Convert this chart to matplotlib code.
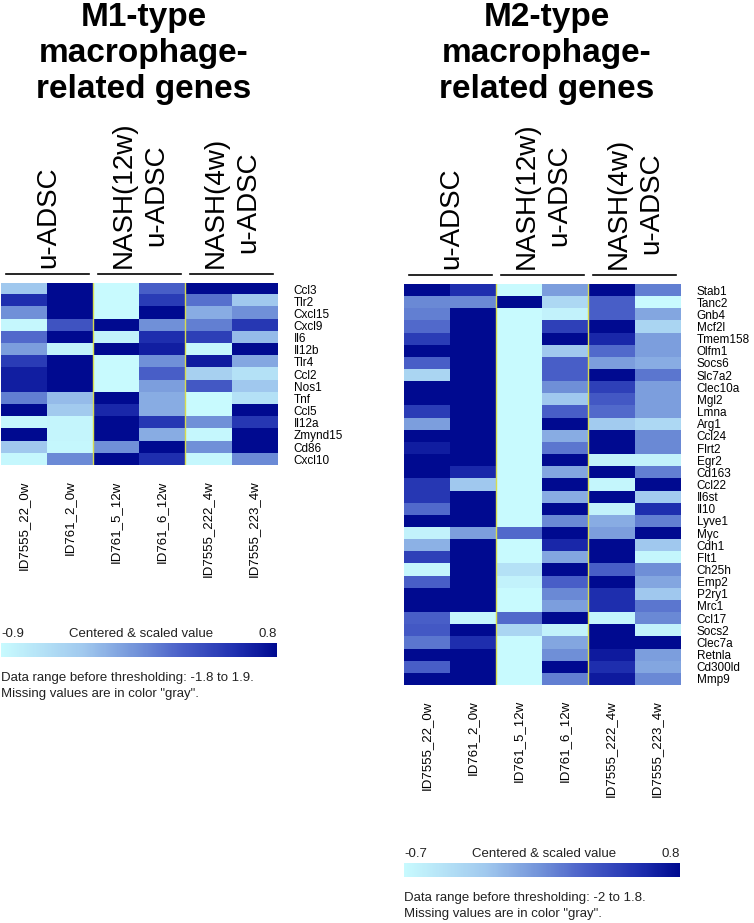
# -*- coding: utf-8 -*-
import matplotlib.pyplot as plt
import matplotlib as mpl
from matplotlib.colors import LinearSegmentedColormap, Normalize

plt.rcParams['font.family'] = ['Liberation Sans', 'DejaVu Sans']

# samples (columns) and groups
samples = ['ID7555_22_0w', 'ID761_2_0w', 'ID761_5_12w',
           'ID761_6_12w', 'ID7555_222_4w', 'ID7555_223_4w']
groups = ['u-ADSC', 'NASH(12w)\nu-ADSC', 'NASH(4w)\nu-ADSC']

# M1 panel
m1_title = 'M1-type\nmacrophage-\nrelated genes'
m1_genes = ['Ccl3', 'Tlr2', 'Cxcl15', 'Cxcl9', 'Il6', 'Il12b', 'Tlr4', 'Ccl2',
            'Nos1', 'Tnf', 'Ccl5', 'Il12a', 'Zmynd15', 'Cd86', 'Cxcl10']
m1_values = [
    [-0.39, 0.80, -0.90, 0.21, 0.80, 0.80],
    [0.55, 0.80, -0.90, 0.46, 0.12, -0.39],
    [-0.05, 0.80, -0.90, 0.80, -0.22, -0.05],
    [-0.87, 0.29, 0.80, -0.05, 0.04, 0.49],
    [0.15, 0.80, -0.82, 0.55, 0.43, -0.31],
    [-0.14, -0.82, 0.80, 0.66, -0.87, 0.80],
    [0.46, 0.80, -0.90, -0.05, 0.68, -0.19],
    [0.66, 0.80, -0.90, 0.21, -0.48, -0.65],
    [0.66, 0.80, -0.90, -0.14, 0.26, -0.39],
    [0.04, -0.31, 0.80, -0.22, -0.90, -0.65],
    [0.80, -0.42, 0.60, -0.22, -0.90, 0.80],
    [-0.87, -0.85, 0.80, 0.49, -0.05, 0.49],
    [0.80, -0.85, 0.80, -0.22, -0.87, 0.80],
    [-0.39, -0.87, -0.05, 0.80, -0.05, 0.80],
    [-0.87, -0.02, 0.80, 0.55, -0.87, -0.02],
]
m1_range = (-0.9, 0.8)
m1_note = 'Data range before thresholding: -1.8 to 1.9.'

# M2 panel
m2_title = 'M2-type\nmacrophage-\nrelated genes'
m2_genes = ['Stab1', 'Tanc2', 'Gnb4', 'Mcf2l', 'Tmem158', 'Olfm1', 'Socs6',
            'Slc7a2', 'Clec10a', 'Mgl2', 'Lmna', 'Arg1', 'Ccl24', 'Flrt2',
            'Egr2', 'Cd163', 'Ccl22', 'Il6st', 'Il10', 'Lyve1', 'Myc', 'Cdh1',
            'Flt1', 'Ch25h', 'Emp2', 'P2ry1', 'Mrc1', 'Ccl17', 'Socs2',
            'Clec7a', 'Retnla', 'Cd300ld', 'Mmp9']
m2_values = [
    [0.80, 0.58, -0.70, -0.03, 0.80, 0.13],
    [0.08, 0.08, 0.80, -0.40, 0.28, -0.70],
    [0.13, 0.80, -0.70, -0.63, 0.28, -0.07],
    [0.23, 0.80, -0.70, 0.47, 0.80, -0.37],
    [0.50, 0.80, -0.70, 0.80, 0.62, -0.03],
    [0.80, 0.80, -0.70, -0.25, 0.23, -0.03],
    [0.28, 0.80, -0.70, 0.28, -0.03, -0.10],
    [-0.37, 0.80, -0.70, 0.28, 0.80, 0.17],
    [0.80, 0.80, -0.70, 0.05, 0.47, -0.03],
    [0.80, 0.80, -0.70, -0.25, 0.32, -0.03],
    [0.50, 0.80, -0.70, 0.28, 0.23, -0.03],
    [-0.03, 0.80, -0.70, 0.80, -0.28, -0.40],
    [0.80, 0.80, -0.70, -0.10, 0.80, 0.08],
    [0.68, 0.80, -0.70, 0.17, 0.80, 0.08],
    [0.80, 0.80, -0.70, 0.80, -0.63, -0.63],
    [0.80, 0.62, -0.70, -0.07, 0.80, 0.13],
    [0.53, -0.25, -0.70, 0.80, -0.66, 0.80],
    [0.53, 0.80, -0.70, -0.10, 0.80, -0.28],
    [0.23, 0.80, -0.70, 0.80, -0.63, 0.58],
    [0.80, 0.80, -0.70, 0.08, -0.10, 0.13],
    [-0.63, -0.03, 0.23, 0.80, -0.03, 0.80],
    [-0.13, 0.80, -0.70, 0.62, 0.80, -0.25],
    [0.47, 0.80, -0.70, -0.07, 0.80, -0.66],
    [-0.67, 0.80, -0.48, 0.80, 0.28, 0.05],
    [0.28, 0.80, -0.63, 0.28, 0.80, -0.07],
    [0.80, 0.80, -0.70, 0.08, 0.58, -0.25],
    [0.80, 0.80, -0.70, -0.03, 0.58, 0.17],
    [0.28, -0.67, 0.23, 0.80, -0.66, 0.08],
    [0.32, 0.80, -0.37, -0.63, 0.80, -0.63],
    [0.17, 0.58, -0.70, -0.07, 0.80, 0.80],
    [0.80, 0.80, -0.70, 0.05, 0.70, -0.03],
    [0.28, 0.80, -0.70, 0.80, 0.58, -0.07],
    [0.80, 0.80, -0.70, 0.13, 0.70, 0.08],
]
m2_range = (-0.7, 0.8)
m2_note = 'Data range before thresholding: -2 to 1.8.'

missing_note = 'Missing values are in color "gray".'

W, H = 754, 923
fig = plt.figure(figsize=(W / 100, H / 100), dpi=100)

# overlay axes in pixel coords (origin top-left)
ov = fig.add_axes([0, 0, 1, 1])
ov.set_xlim(0, W)
ov.set_ylim(H, 0)
ov.axis('off')

cmap = LinearSegmentedColormap.from_list(
    'cyanblue', [(0.0, '#c8fafe'), (0.3, '#a0c8ee'), (0.5, '#7090d8'),
                 (0.65, '#4a60c8'), (0.85, '#2030b0'), (1.0, '#000a90')])


def box(x0, y0, x1, y1):
    return [x0 / W, 1 - y1 / H, (x1 - x0) / W, (y1 - y0) / H]


def panel(x0, top, genes, values, vrange, note, title):
    row_h = 12.15
    width = 276
    bottom = top + row_h * len(genes)
    cx = x0 + width / 2

    # title
    ov.text(cx + 5, 2, title, ha='center', va='top', fontsize=24,
            fontweight='bold', linespacing=1.2)

    # group headers
    col_w = width / 6
    for i, g in enumerate(groups):
        gx0 = x0 + i * 2 * col_w
        ov.plot([gx0 + 5, gx0 + 2 * col_w - 4], [top - 9, top - 9],
                color='black', lw=1.2)
        ov.text(gx0 + col_w + 1, top - 15, g, rotation=90, ha='center',
                va='bottom', multialignment='center', fontsize=20,
                linespacing=1.3)

    # heatmap
    ax = fig.add_axes(box(x0, top, x0 + width, bottom))
    ax.imshow(values, cmap=cmap, vmin=vrange[0], vmax=vrange[1],
              aspect='auto', interpolation='nearest')
    for xv in (1.5, 3.5):
        ax.axvline(xv, color='#d8dc50', lw=1.0)
    ax.set_yticks(range(len(genes)))
    ax.set_yticklabels(genes, fontsize=8.5)
    ax.yaxis.tick_right()
    ax.set_xticks(range(len(samples)))
    ax.set_xticklabels(samples, rotation=90, fontsize=9.5)
    ax.tick_params(length=0, pad=11)
    ax.tick_params(axis='y', pad=12)
    for s in ax.spines.values():
        s.set_visible(False)

    # colour key
    cb_top = bottom + 178
    cax = fig.add_axes(box(x0, cb_top, x0 + width, cb_top + 14))
    cb = mpl.colorbar.ColorbarBase(cax, cmap=cmap,
                                   norm=Normalize(*vrange),
                                   orientation='horizontal')
    cb.set_ticks([])
    cb.outline.set_visible(False)
    ov.text(x0, cb_top - 3, f'{vrange[0]:g}', ha='left', va='bottom',
            fontsize=9.5, color='#222222')
    ov.text(cx + 2, cb_top - 3, 'Centered & scaled value', ha='center',
            va='bottom', fontsize=9.5, color='#222222')
    ov.text(x0 + width, cb_top - 3, f'{vrange[1]:g}', ha='right',
            va='bottom', fontsize=9.5, color='#222222')
    ov.text(x0, cb_top + 35, note, ha='left', va='center', fontsize=9.5,
            color='#222222')
    ov.text(x0, cb_top + 51, missing_note, ha='left', va='center',
            fontsize=9.5, color='#222222')


panel(1, 283, m1_genes, m1_values, m1_range, m1_note, m1_title)
panel(404, 284, m2_genes, m2_values, m2_range, m2_note, m2_title)

fig.savefig('out.png', dpi=100)
